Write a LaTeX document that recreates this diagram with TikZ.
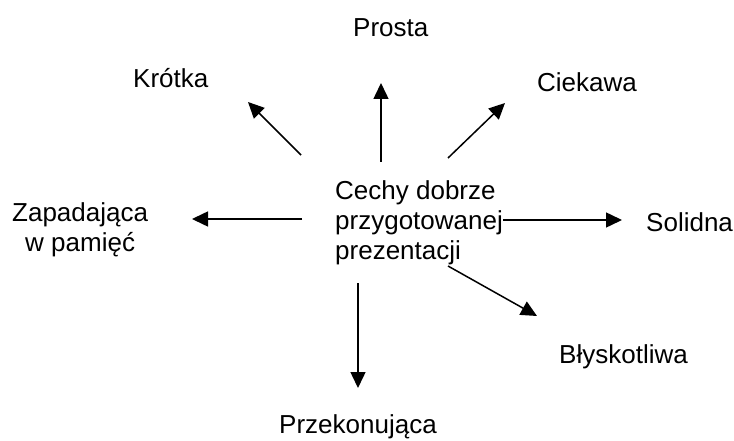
\documentclass[tikz,border=0pt]{standalone}
\usepackage{fontspec}
\setmainfont{Liberation Sans}
\usetikzlibrary{arrows.meta}
\begin{document}
\begin{tikzpicture}[x=1pt,y=-1pt,
  label/.style={inner sep=0pt,anchor=base west,font=\fontsize{26}{30}\selectfont},
  ray/.style={line width=1.5pt,-{Triangle[length=16pt,width=15pt]}}]
\useasboundingbox (0,0) rectangle (734,441);

% centre text
\node[label] (centre) at (335,200)
  {\begin{tabular}[t]{@{}l@{}}Cechy dobrze\\przygotowanej\\prezentacji\end{tabular}};

% features around it
\node[label] (prosta)  at (353,37)  {Prosta};
\node[label] (krotka)  at (133,88)  {Krótka};
\node[label] (ciekawa) at (537,92)  {Ciekawa};
\node[label] (zapad)   at (12,222)
  {\begin{tabular}[t]{@{}c@{}}Zapadająca\\w pamięć\end{tabular}};
\node[label] (solidna) at (646,231) {Solidna};
\node[label] (blysk)   at (559,363) {Błyskotliwa};
\node[label,anchor=base] (przek) at (358,433) {Przekonująca};

% ray ends
\coordinate (upA) at (381,162);   \coordinate (upB) at (381,83);
\coordinate (ulA) at (301,155);   \coordinate (ulB) at (248,102);
\coordinate (urA) at (448,158);   \coordinate (urB) at (505,103);
\coordinate (lA)  at (302,219);   \coordinate (lB)  at (192,219);
\coordinate (rA)  at (503,220);   \coordinate (rB)  at (622,220);
\coordinate (drA) at (448,266);   \coordinate (drB) at (537,316);
\coordinate (dA)  at (358,283);   \coordinate (dB)  at (358,388);

\draw[ray] (upA) -- (upB);
\draw[ray] (ulA) -- (ulB);
\draw[ray] (urA) -- (urB);
\draw[ray] (lA)  -- (lB);
\draw[ray] (rA)  -- (rB);
\draw[ray] (drA) -- (drB);
\draw[ray] (dA)  -- (dB);
\end{tikzpicture}
\end{document}
